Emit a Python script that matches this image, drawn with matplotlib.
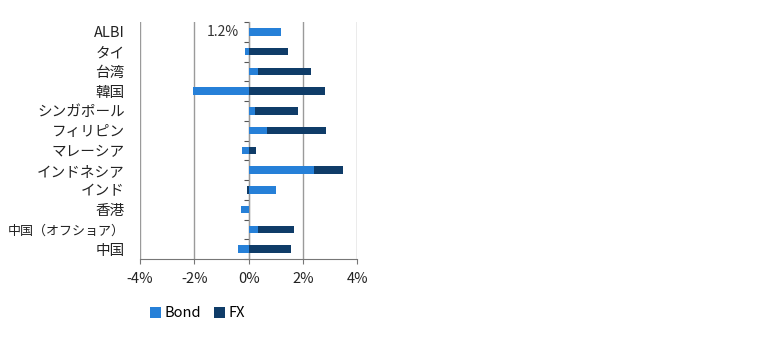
import numpy as np
import matplotlib
matplotlib.use('Agg')
import matplotlib.pyplot as plt
from matplotlib.ticker import FuncFormatter

plt.rcParams['font.family'] = ['Noto Sans CJK JP', 'DejaVu Sans']

countries = ['ALBI', 'タイ', '台湾', '韓国', 'シンガポール', 'フィリピン', 'マレーシア',
             'インドネシア', 'インド', '香港', '中国（オフショア）', '中国']
bond = np.array([1.2, -0.15, 0.33, -2.05, 0.22, 0.66, -0.26, 2.39, 1.0, -0.3, 0.35, -0.4])
fx = np.array([0.0, 1.43, 1.95, 2.79, 1.58, 2.17, 0.26, 1.06, -0.08, 0.0, 1.3, 1.55])

bond_color = '#2680d8'
fx_color = '#0f3c68'

# FX stacks on the same side of zero as its own sign
fx_left = np.where(fx >= 0, np.maximum(bond, 0), np.minimum(bond, 0))
ypos = np.arange(len(countries))

fig = plt.figure(figsize=(7.8, 3.4), dpi=100)
ax = fig.add_axes([0.1795, 0.2382, 0.2788, 0.6968])

ax.barh(ypos, bond, height=0.38, color=bond_color, label='Bond', zorder=3)
ax.barh(ypos, fx, left=fx_left, height=0.38, color=fx_color, label='FX', zorder=3)

ax.text(-0.35, ypos[0], f'{bond[0]:.1f}%', ha='right', va='center',
        fontsize=10, color='#333333')

ax.set_xlim(-4, 4)
ax.set_ylim(len(countries) - 0.5, -0.5)
ax.set_xticks([-4, -2, 0, 2, 4])
ax.xaxis.set_major_formatter(FuncFormatter(lambda v, p: f'{v:.0f}%'))
ax.set_yticks(ypos)
ax.set_yticklabels(countries)
ax.tick_params(axis='y', length=0, pad=11, labelsize=10.5, labelcolor='#222222')
ax.tick_params(axis='x', length=3.5, color='#777777', labelsize=10.5,
               labelcolor='#222222', pad=6)
# the long label with full-width brackets needs a smaller size to fit
for lbl in ax.get_yticklabels():
    if len(lbl.get_text()) > 8:
        lbl.set_fontsize(9.4)

ax.grid(axis='x', color='#9a9a9a', linewidth=1, zorder=0)
for side in ['top', 'left', 'right']:
    ax.spines[side].set_visible(False)
ax.spines['bottom'].set_color('#777777')

# category axis crossing at 0%
zero_axis = ax.secondary_yaxis(0.5)
zero_axis.set_alignment('left')
zero_axis.set_yticks(np.arange(len(countries) + 1) - 0.5)
zero_axis.set_yticklabels([])
zero_axis.tick_params(length=3.5, color='#555555')
zero_axis.spines['left'].set_color('#444444')

fig.legend(loc='center left', bbox_to_anchor=(0.192, 0.078), ncol=2, frameon=False,
           fontsize=10.5, handlelength=0.75, handleheight=0.75, handletextpad=0.25,
           columnspacing=0.9, borderpad=0, borderaxespad=0)

fig.savefig('out.png', dpi=100)
